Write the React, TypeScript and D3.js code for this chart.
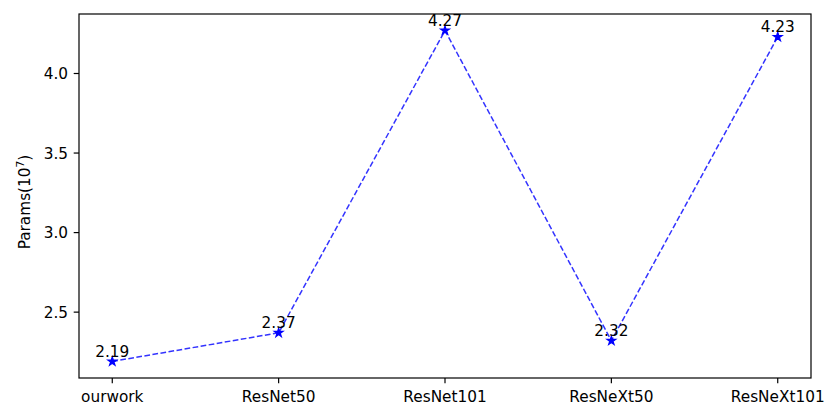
import React from "react";
import * as d3 from "d3";

const categories = ["ourwork", "ResNet50", "ResNet101", "ResNeXt50", "ResNeXt101"];
const values = [2.19, 2.37, 4.27, 2.32, 4.23];
const yTicks = [2.5, 3.0, 3.5, 4.0];

const W = 826, H = 403;
const L = 79, R = 811, T = 14, B = 378;
const FS = 15.3;

export default function App() {
  const n = categories.length;
  const x = d3.scaleLinear().domain([-0.2, n - 1 + 0.2]).range([L, R]);
  const vmin = d3.min(values)!, vmax = d3.max(values)!;
  const pad = (vmax - vmin) * 0.05;
  const y = d3.scaleLinear().domain([vmin - pad, vmax + pad]).range([B, T]);
  const line = d3.line<number>().x((_, i) => x(i)).y((d) => y(d));
  const star = d3.symbol().type(d3.symbolStar).size(24)();
  const font = "DejaVu Sans, sans-serif";
  return (
    <svg width={W} height={H} style={{ position: "absolute", left: 0, top: 0 }} fontFamily={font}>
      <rect x={0} y={0} width={W} height={H} fill="white" />
      <path d={line(values)!} fill="none" stroke="blue" strokeOpacity={0.8} strokeWidth={1.5} strokeDasharray="5.7 2.45" />
      {values.map((v, i) => (
        <path key={"m" + i} d={star!} transform={`translate(${x(i)},${y(v)})`} fill="blue" stroke="blue" strokeWidth={1.2} />
      ))}
      {values.map((v, i) => (
        <text key={"t" + i} x={x(i)} y={y(v) - 4.5} textAnchor="middle" fontSize={FS} fill="#000">
          {v.toFixed(2)}
        </text>
      ))}
      <rect x={L} y={T} width={R - L} height={B - T} fill="none" stroke="#000" strokeWidth={1.2} />
      {categories.map((c, i) => (
        <g key={"x" + i}>
          <line x1={x(i)} x2={x(i)} y1={B} y2={B + 5.3} stroke="#000" strokeWidth={1.2} />
          <text x={x(i)} y={B + 23.5} textAnchor="middle" fontSize={FS} fill="#000">{c}</text>
        </g>
      ))}
      {yTicks.map((t, i) => (
        <g key={"y" + i}>
          <line x1={L - 5.3} x2={L} y1={y(t)} y2={y(t)} stroke="#000" strokeWidth={1.2} />
          <text x={L - 11} y={y(t)} dy="0.36em" textAnchor="end" fontSize={FS} fill="#000">{t.toFixed(1)}</text>
        </g>
      ))}
      <text transform={`translate(30,202) rotate(-90)`} textAnchor="middle" fontSize={FS} fill="#000">
        Params(10<tspan dy="-6" fontSize={10.7}>7</tspan><tspan dy="6">)</tspan>
      </text>
    </svg>
  );
}
